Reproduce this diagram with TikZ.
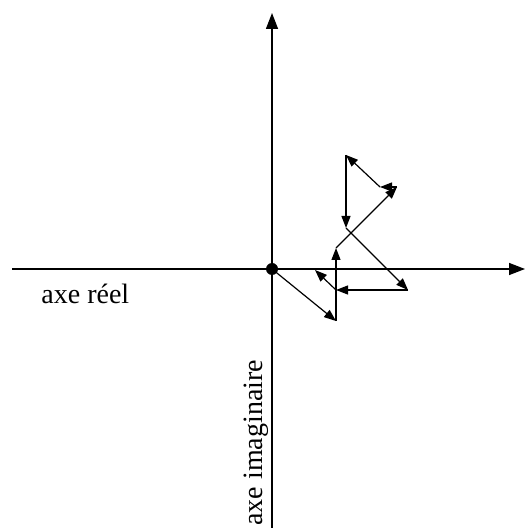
\documentclass[tikz,border=0pt]{standalone}
\usepackage{fontspec}
\setmainfont{Liberation Serif}
\usetikzlibrary{arrows.meta, positioning, calc}
\tikzset{
  axis/.style={-{Triangle[length=8pt,width=6pt]}, line width=0.7pt},
  vec/.style={-{Triangle[length=6pt,width=4.5pt]}, line width=0.6pt},
  lbl/.style={font=\fontsize{14}{17}\selectfont, inner sep=0pt},
  origdot/.style={circle, fill=black, inner sep=0pt, minimum size=6pt},
}

\begin{document}
\begin{tikzpicture}[x=0.5pt, y=-0.5pt]
    \useasboundingbox (0,0) rectangle (525,528);

    % axes
    \coordinate (O) at (272,269);
    \coordinate (xl) at (12,269);
    \coordinate (xr) at (525,269);
    \coordinate (yb) at (272,528);
    \coordinate (yt) at (272,13);
    \draw[axis] (xl) -- (xr);
    \draw[axis] (yb) -- (yt);
    \node[origdot] (orig) at (O) {};

    \node[lbl, anchor=base west] (reel) at (41,303) {axe r\'eel};
    \node[lbl, anchor=base west, rotate=90] (imag) at (262,526) {axe imaginaire};

    % chaine de vecteurs
    \coordinate (p1) at (336,321);
    \coordinate (p2) at (336,248);
    \coordinate (p3) at (397,187);
    \coordinate (p4) at (380,187);
    \coordinate (p5) at (346,155);
    \coordinate (p6) at (346,228);
    \coordinate (p7) at (408,290);
    \coordinate (p8) at (336,290);
    \coordinate (p9) at (315,270);

    \draw[vec] (O) -- (p1);
    \draw[vec] (p1) -- (p2);
    \draw[vec] (p2) -- (p3);
    \draw[vec] (p3) -- (p4);
    \draw[vec] (p4) -- (p5);
    \draw[vec] (p5) -- (p6);
    \draw[vec] (p6) -- (p7);
    \draw[vec] (p7) -- (p8);
    \draw[vec] (p8) -- (p9);
  \end{tikzpicture}
\end{document}
